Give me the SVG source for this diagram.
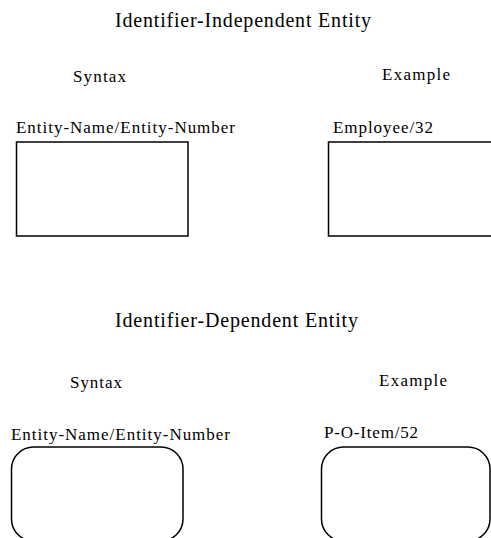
<svg xmlns="http://www.w3.org/2000/svg" width="491" height="538" viewBox="0 0 491 538">
<style>
.t{font-size:20px}
.l{font-size:17px}
.b{fill:#fff;stroke:#000;stroke-width:1.5}
</style>
<rect width="491" height="538" fill="#fff"/>
<g font-family="'Liberation Serif', 'DejaVu Serif', serif" fill="#000">
<g id="labels">
<text class="t" x="115" y="27" textLength="256" lengthAdjust="spacing">Identifier-Independent Entity</text>
<text class="l" x="73" y="82" textLength="53" lengthAdjust="spacing">Syntax</text>
<text class="l" x="382" y="80" textLength="68" lengthAdjust="spacing">Example</text>
<text class="t" x="115" y="327" textLength="243" lengthAdjust="spacing">Identifier-Dependent Entity</text>
<text class="l" x="70" y="388" textLength="52" lengthAdjust="spacing">Syntax</text>
<text class="l" x="379" y="386" textLength="68" lengthAdjust="spacing">Example</text>
</g>
<g id="node-syntax-independent">
<text class="l" x="16" y="133" textLength="219" lengthAdjust="spacing">Entity-Name/Entity-Number</text>
<rect class="b" x="16.5" y="142" width="171.5" height="94"/>
</g>
<g id="node-example-independent">
<text class="l" x="333" y="133" textLength="100" lengthAdjust="spacing">Employee/32</text>
<rect class="b" x="328.5" y="142" width="170" height="94"/>
</g>
<g id="node-syntax-dependent">
<text class="l" x="11" y="440" textLength="219" lengthAdjust="spacing">Entity-Name/Entity-Number</text>
<rect class="b" x="11.5" y="447" width="171.5" height="94" rx="22" ry="22"/>
</g>
<g id="node-example-dependent">
<text class="l" x="324" y="438" textLength="94" lengthAdjust="spacing">P-O-Item/52</text>
<rect class="b" x="321.5" y="447" width="168.5" height="94" rx="22" ry="22"/>
</g>
</g>
<g id="connectors"/>
</svg>
